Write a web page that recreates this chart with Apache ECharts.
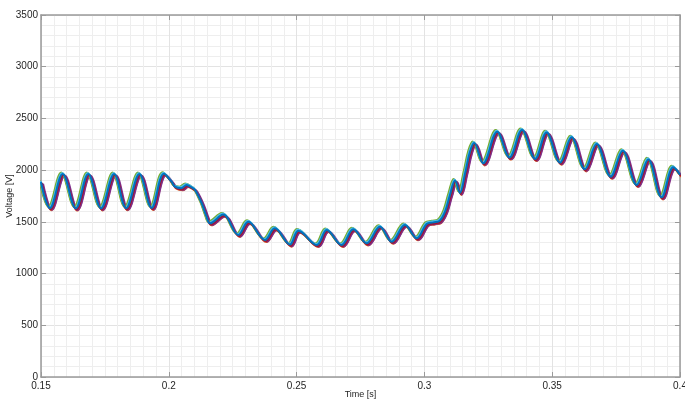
<!DOCTYPE html>
<html>
<head>
<meta charset="utf-8">
<script src="https://cdn.jsdelivr.net/npm/echarts@6/dist/echarts.min.js"></script>
<style>html,body{margin:0;padding:0;background:#fff}#c{width:685px;height:400px}</style>
</head>
<body>
<div id="c"></div>
<script>
// Time samples [s] (peaks, troughs and transition points)
const time = [
  0.1500,0.1535,0.1585,0.1636,0.1685,0.1735,0.1786,0.1833,0.1885,0.1933,
  0.1981,0.2011,0.2024,0.2048,0.2070,0.2091,0.2103,0.2129,0.2148,0.2161,
  0.2213,0.2272,0.2311,0.2376,0.2415,0.2474,0.2507,0.2579,0.2618,0.2676,
  0.2722,0.2774,0.2826,0.2872,0.2924,0.2970,0.3009,0.3035,0.3060,0.3081,
  0.3100,0.3120,0.3139,0.3159,0.3178,0.3195,0.3230,0.3285,0.3333,0.3382,
  0.3433,0.3478,0.3531,0.3576,0.3628,0.3674,0.3729,0.3776,0.3831,0.3876,
  0.3928,0.3974,0.4000
];
// Voltage [V]
const voltage = [
  1885,1632,1963,1630,1963,1630,1963,1632,1963,1635,
  1965,1888,1840,1825,1856,1830,1808,1680,1550,1486,
  1570,1373,1500,1325,1437,1280,1415,1276,1421,1276,
  1428,1292,1453,1308,1470,1341,1480,1495,1510,1600,
  1760,1900,1780,1965,2175,2262,2066,2372,2122,2388,
  2108,2365,2072,2317,2008,2253,1937,2188,1856,2104,
  1737,2027,1955
];
// Runs (MATLAB default colour order), with small lags/offsets estimated from the band
const runNames = ['Run 2','Run 3','Run 4','Run 5','Run 6','Run 7','Run 1'];
const runColors = ['#D95319','#EDB120','#7E2F8E','#77AC30','#4DBEEE','#A2142F','#0072BD'];
const runLag = [0.0006,-0.0004,0.0008,-0.0006,-0.0002,0.0003,0.0000];
const runOffset = [-20,10,-15,15,10,-10,0];
const xTicks = [0.15,0.2,0.25,0.3,0.35,0.4];
const yTicks = [0,500,1000,1500,2000,2500,3000,3500];

const chart = echarts.init(document.getElementById('c'));
const axisLineStyle = {color:'#9a9a9a', width:1.5};
const font = 'Liberation Sans, Arial, sans-serif';
const labelStyle = {color:'#262626', fontSize:10, fontFamily:font};
const series = runNames.map((n,k)=>({
  name:n, type:'line', showSymbol:false, smooth:0.37,
  lineStyle:{color:runColors[k], width:2},
  data: time.map((t,i)=>[t+runLag[k], voltage[i]+runOffset[k]]),
  xAxisIndex:0, yAxisIndex:0, z:2+k, silent:true
}));
chart.setOption({
  animation:false,
  backgroundColor:'#fff',
  grid:{left:41, right:5, top:15, bottom:23, containLabel:false, outerBoundsMode:'none'},
  xAxis:[{
    type:'value', min:xTicks[0], max:xTicks[xTicks.length-1], interval:0.05,
    name:'Time [s]', nameLocation:'middle', nameGap:13, nameMoveOverlap:false,
    nameTextStyle:{color:'#262626', fontSize:9, fontFamily:font},
    axisLine:{show:true, onZero:false, lineStyle:axisLineStyle},
    axisTick:{show:true, inside:true, length:5, lineStyle:{color:'#9a9a9a'}},
    axisLabel:Object.assign({margin:4, formatter:v=>String(+v.toFixed(2))}, labelStyle),
    splitLine:{show:true, lineStyle:{color:'#e3e3e3', width:1}},
    minorTick:{show:false, splitNumber:10},
    minorSplitLine:{show:true, lineStyle:{color:'#eeeeee', width:1}}
  },{
    type:'value', position:'top', min:xTicks[0], max:xTicks[xTicks.length-1], interval:0.05,
    axisLine:{show:true, onZero:false, lineStyle:axisLineStyle},
    axisTick:{show:true, inside:true, length:5, lineStyle:{color:'#9a9a9a'}},
    axisLabel:{show:false}, splitLine:{show:false}
  }],
  yAxis:[{
    type:'value', min:yTicks[0], max:yTicks[yTicks.length-1], interval:500,
    name:'Voltage [V]', nameLocation:'middle', nameGap:27, nameMoveOverlap:false,
    nameTextStyle:{color:'#262626', fontSize:9, fontFamily:font},
    axisLine:{show:true, onZero:false, lineStyle:axisLineStyle},
    axisTick:{show:true, inside:true, length:5, lineStyle:{color:'#9a9a9a'}},
    axisLabel:Object.assign({margin:3, formatter:v=>String(v)}, labelStyle),
    splitLine:{show:true, lineStyle:{color:'#e3e3e3', width:1}},
    minorTick:{show:false, splitNumber:5},
    minorSplitLine:{show:true, lineStyle:{color:'#eeeeee', width:1}}
  },{
    type:'value', position:'right', min:yTicks[0], max:yTicks[yTicks.length-1], interval:500,
    axisLine:{show:true, onZero:false, lineStyle:axisLineStyle},
    axisTick:{show:true, inside:true, length:5, lineStyle:{color:'#9a9a9a'}},
    axisLabel:{show:false}, splitLine:{show:false}
  }],
  series: series
});
</script>
</body>
</html>
